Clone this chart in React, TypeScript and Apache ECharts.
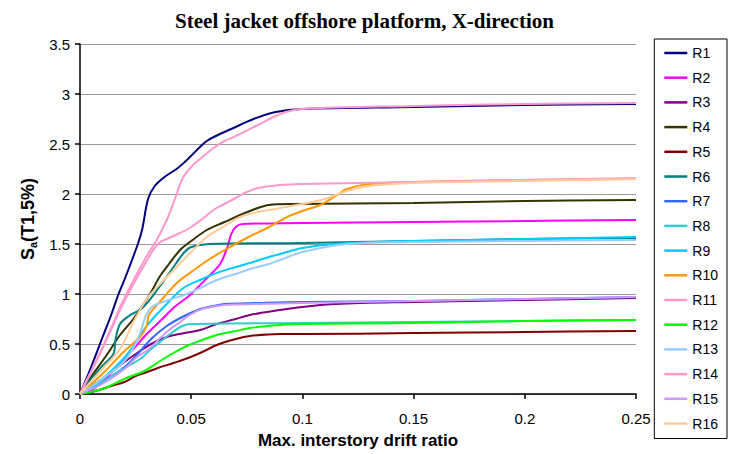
import React, { useEffect, useRef } from "react";
import * as echarts from "echarts";

const seriesNames = ["R1","R2","R3","R4","R5","R6","R7","R8","R9","R10","R11","R12","R13","R14","R15","R16"];
const seriesColors = ["#000080","#FF00FF","#800080","#333300","#800000","#008080","#3366FF","#33CCCC","#00CCFF","#FF9900","#FF99CC","#00FF00","#99CCFF","#FF99CC","#CC99FF","#FFCC99"];

const xTicks = [0, 0.05, 0.1, 0.15, 0.2, 0.25];
const yTicks = [0, 0.5, 1, 1.5, 2, 2.5, 3, 3.5];

const R1 = [[0,0],[0.005,0.27],[0.01,0.56],[0.014,0.79],[0.017,0.98],[0.021,1.2],[0.026,1.5],[0.028,1.65],[0.0306,1.95],[0.0336,2.08],[0.038,2.17],[0.044,2.26],[0.049,2.36],[0.053,2.45],[0.057,2.53],[0.062,2.59],[0.068,2.65],[0.078,2.75],[0.088,2.82],[0.1,2.85],[0.15,2.87],[0.2,2.89],[0.25,2.9]];
const R2 = [[0.003,0],[0.01,0.12],[0.017,0.28],[0.024,0.45],[0.03,0.6],[0.037,0.75],[0.043,0.88],[0.049,0.98],[0.058,1.18],[0.063,1.3],[0.066,1.45],[0.068,1.6],[0.07,1.67],[0.073,1.7],[0.1,1.71],[0.15,1.72],[0.2,1.73],[0.25,1.74]];
const R3 = [[0,0],[0.01,0.15],[0.02,0.32],[0.027,0.43],[0.032,0.5],[0.039,0.57],[0.047,0.61],[0.054,0.64],[0.0615,0.7],[0.07,0.75],[0.0764,0.79],[0.09,0.84],[0.1,0.87],[0.115,0.9],[0.15,0.92],[0.2,0.94],[0.25,0.96]];
const R4 = [[0,0],[0.005,0.17],[0.012,0.39],[0.018,0.59],[0.024,0.75],[0.028,0.88],[0.032,1.02],[0.036,1.18],[0.04,1.3],[0.045,1.44],[0.05,1.53],[0.057,1.64],[0.065,1.72],[0.072,1.79],[0.08,1.86],[0.085,1.89],[0.095,1.9],[0.15,1.91],[0.2,1.93],[0.25,1.94]];
const R5 = [[0,0],[0.007,0.03],[0.014,0.08],[0.02,0.12],[0.025,0.18],[0.029,0.21],[0.035,0.26],[0.042,0.31],[0.0486,0.36],[0.055,0.42],[0.0615,0.49],[0.07,0.55],[0.0764,0.58],[0.09,0.6],[0.1,0.6],[0.15,0.61],[0.2,0.62],[0.25,0.63]];
const R6 = [[0,0],[0.005,0.15],[0.01,0.28],[0.015,0.4],[0.016,0.55],[0.018,0.7],[0.022,0.78],[0.028,0.86],[0.035,1.05],[0.043,1.3],[0.047,1.42],[0.05,1.47],[0.058,1.5],[0.1,1.51],[0.15,1.53],[0.2,1.55],[0.25,1.56]];
const R7 = [[0,0],[0.01,0.12],[0.02,0.27],[0.0255,0.39],[0.032,0.55],[0.039,0.68],[0.046,0.77],[0.054,0.85],[0.06,0.88],[0.065,0.9],[0.08,0.91],[0.1,0.92],[0.15,0.93],[0.2,0.95],[0.25,0.97]];
const R8 = [[0,0],[0.01,0.12],[0.017,0.22],[0.0277,0.36],[0.0315,0.44],[0.036,0.52],[0.0405,0.6],[0.046,0.68],[0.05,0.7],[0.1,0.71],[0.15,0.72],[0.2,0.73],[0.25,0.74]];
const R9 = [[0,0],[0.01,0.15],[0.021,0.39],[0.03,0.68],[0.039,0.9],[0.0465,1.06],[0.055,1.15],[0.0615,1.21],[0.07,1.27],[0.0764,1.31],[0.085,1.37],[0.09,1.4],[0.1,1.46],[0.115,1.5],[0.15,1.53],[0.2,1.55],[0.25,1.57]];
const R10 = [[0,0],[0.01,0.2],[0.02,0.43],[0.027,0.57],[0.03,0.68],[0.031,0.79],[0.037,0.95],[0.044,1.12],[0.05,1.22],[0.057,1.33],[0.065,1.44],[0.075,1.56],[0.085,1.67],[0.094,1.78],[0.1,1.83],[0.108,1.89],[0.115,1.98],[0.12,2.05],[0.13,2.1],[0.15,2.12],[0.2,2.14],[0.25,2.15]];
const R11 = [[0,0],[0.01,0.45],[0.02,0.93],[0.03,1.33],[0.035,1.5],[0.04,1.56],[0.045,1.61],[0.05,1.67],[0.055,1.75],[0.06,1.84],[0.065,1.9],[0.07,1.96],[0.075,2.02],[0.08,2.06],[0.09,2.09],[0.1,2.1],[0.15,2.12],[0.2,2.14],[0.25,2.16]];
const R12 = [[0,0],[0.01,0.05],[0.018,0.13],[0.022,0.17],[0.029,0.23],[0.036,0.33],[0.042,0.41],[0.048,0.48],[0.055,0.54],[0.0615,0.59],[0.07,0.63],[0.0764,0.66],[0.09,0.69],[0.1,0.7],[0.15,0.71],[0.2,0.73],[0.25,0.74]];
const R13 = [[0,0],[0.01,0.15],[0.02,0.33],[0.026,0.55],[0.03,0.8],[0.033,0.88],[0.04,0.94],[0.048,1.0],[0.055,1.07],[0.0615,1.14],[0.07,1.2],[0.0764,1.25],[0.085,1.3],[0.09,1.34],[0.1,1.42],[0.12,1.5],[0.15,1.52],[0.2,1.53],[0.25,1.54]];
const R14 = [[0,0],[0.01,0.46],[0.02,0.96],[0.03,1.38],[0.035,1.56],[0.0396,1.77],[0.043,1.97],[0.046,2.15],[0.05,2.27],[0.055,2.37],[0.06,2.46],[0.065,2.53],[0.07,2.58],[0.08,2.69],[0.09,2.8],[0.1,2.85],[0.15,2.88],[0.2,2.9],[0.25,2.91]];
const R15 = [[0,0],[0.01,0.1],[0.02,0.25],[0.025,0.36],[0.031,0.45],[0.039,0.62],[0.045,0.72],[0.05,0.8],[0.055,0.85],[0.065,0.89],[0.08,0.9],[0.1,0.91],[0.15,0.93],[0.2,0.95],[0.25,0.97]];
const R16 = [[0,0],[0.01,0.25],[0.018,0.45],[0.024,0.72],[0.03,0.95],[0.036,1.1],[0.044,1.28],[0.05,1.42],[0.057,1.57],[0.065,1.68],[0.073,1.78],[0.085,1.84],[0.1,1.9],[0.11,1.95],[0.12,2.03],[0.13,2.08],[0.15,2.11],[0.2,2.13],[0.25,2.15]];

const seriesData = [R1,R2,R3,R4,R5,R6,R7,R8,R9,R10,R11,R12,R13,R14,R15,R16];

export default function App() {
  const ref = useRef<HTMLDivElement>(null);
  useEffect(() => {
    if (!ref.current) return;
    const chart = echarts.init(ref.current, null, { renderer: "svg" });
    const sans = "Liberation Sans, Arial, sans-serif";
    chart.setOption({
      animation: false,
      backgroundColor: "#ffffff",
      title: {
        text: "Steel jacket offshore platform, X-direction",
        left: "center",
        top: 5,
        textStyle: { fontFamily: "Liberation Serif, Times New Roman, serif", fontWeight: "bold", fontSize: 21, color: "#000" },
      },
      legend: {
        orient: "vertical",
        right: 2,
        top: 39,
        data: seriesNames,
        icon: "rect",
        itemWidth: 23,
        itemHeight: 2.5,
        itemGap: 10.7,
        borderColor: "#000",
        borderWidth: 1,
        borderRadius: 0,
        padding: [7, 9, 8, 10],
        textStyle: { fontFamily: sans, fontSize: 14, color: "#000" },
      },
      grid: { left: 80, right: 93, top: 44, bottom: 54, containLabel: false },
      xAxis: {
        type: "value",
        min: 0,
        max: 0.25,
        interval: 0.05,
        name: "Max. interstory drift ratio",
        nameLocation: "middle",
        nameGap: 38,
        nameTextStyle: { fontFamily: sans, fontWeight: "bold", fontSize: 17, color: "#000" },
        axisLine: { lineStyle: { color: "#000", width: 1.5 } },
        axisTick: { show: true, inside: false, length: 5, lineStyle: { color: "#000", width: 1.5 } },
        axisLabel: { margin: 17, fontFamily: sans, fontSize: 15, color: "#000", formatter: (v: number) => String(v) },
        splitLine: { show: false },
      },
      yAxis: {
        type: "value",
        min: 0,
        max: 3.5,
        interval: 0.5,
        name: "{b|S}{s|a}{b|(T1,5%)}",
        nameLocation: "middle",
        nameRotate: 90,
        nameGap: 39,
        nameTextStyle: {
          rich: {
            b: { fontFamily: sans, fontWeight: "bold", fontSize: 18, color: "#000" },
            s: { fontFamily: sans, fontWeight: "bold", fontSize: 11, color: "#000", padding: [9, 0, 0, 0] },
          },
        },
        axisLine: { show: true, lineStyle: { color: "#000", width: 1.5 } },
        axisTick: { show: true, inside: false, length: 5, lineStyle: { color: "#000", width: 1.5 } },
        axisLabel: { margin: 10, fontFamily: sans, fontSize: 15, color: "#000", formatter: (v: number) => String(v) },
        splitLine: { show: true, lineStyle: { color: "#999", width: 1 } },
      },
      series: seriesNames.map((n, i) => ({
        name: n,
        type: "line",
        data: seriesData[i],
        smooth: 0.35,
        showSymbol: false,
        symbol: "none",
        lineStyle: { color: seriesColors[i], width: 2 },
        itemStyle: { color: seriesColors[i] },
      })),
    });
    return () => chart.dispose();
  }, []);
  return <div ref={ref} style={{ position: "fixed", left: 0, top: 0, width: 729, height: 454 }} />;
}
